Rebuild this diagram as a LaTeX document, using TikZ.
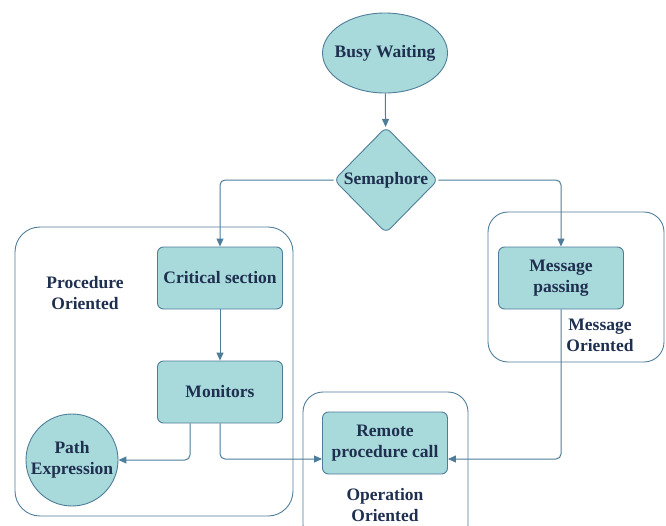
\documentclass[tikz,border=0pt]{standalone}
\usepackage{fontspec}
\setmainfont{Liberation Serif}
\usetikzlibrary{shapes.geometric,
	positioning,
	arrows.meta}
\definecolor{boxfill}{HTML}{A8D9DB}
\definecolor{boxline}{HTML}{4F7D99}
\definecolor{textnavy}{HTML}{1E2F4F}

\begin{document}
\begin{tikzpicture}[x=1pt, y=-1pt,
        every node/.style={font=\fontsize{17.5}{21}\selectfont\bfseries, text=textnavy, align=center},
        block/.style={draw=boxline, fill=boxfill, line width=0.9pt, rounded corners=6pt, minimum width=125pt, minimum height=62pt},
        group/.style={draw=boxline, line width=0.9pt},
        link/.style={draw=boxline, line width=1pt, rounded corners=5pt, -{Triangle[length=8pt, width=7pt]}}]
            \useasboundingbox (0, 0) rectangle (666, 525);
            \clip (0, 0) rectangle (666, 525);

            % groups
            \draw[group, rounded corners=25pt] (15, 227) rectangle (293, 516);
            \draw[group, rounded corners=20pt] (488, 212) rectangle (664, 362);
            \draw[group, rounded corners=20pt] (303, 392) rectangle (468, 545);
            \node (proclbl) at (85, 293) {Procedure\\Oriented};
            \node (msglbl) at (600, 335) {Message\\Oriented};
            \node (oplbl) at (385, 505) {Operation\\Oriented};

            % nodes
            \node[ellipse, draw=boxline, fill=boxfill, line width=0.9pt, inner xsep=-7pt, minimum width=125pt, minimum height=80pt] (busy) at (385, 53) {Busy Waiting};
            \node[diamond, draw=boxline, fill=boxfill, line width=0.9pt, rounded corners=6pt, inner sep=0pt, minimum width=104pt, minimum height=106pt] (sema) at (386, 180) {Semaphore};
            \node[block] (crit) at (220, 278) {Critical section};
            \node[block] (mon) at (220, 392) {Monitors};
            \node[block] (msg) at (561, 278) {Message\\passing};
            \node[block] (rpc) at (385, 443) {Remote\\procedure call};
            \node[circle, draw=boxline, fill=boxfill, line width=0.9pt, inner sep=0pt, minimum size=92pt] (path) at (72, 460) {Path\\Expression};

            % connectors
            \draw[link] (busy) -- (sema);
            \draw[link] (sema.west) -| (crit.north);
            \draw[link] (sema.east) -| (msg.north);
            \draw[link] (crit) -- (mon);
            \draw[link] ([xshift=-30pt]mon.south) |- (path.east);
            \draw[link] (mon.south) |- ([yshift=-16pt]rpc.west);
            \draw[link] (msg.south) |- ([yshift=-16pt]rpc.east);
        \end{tikzpicture}
\end{document}
